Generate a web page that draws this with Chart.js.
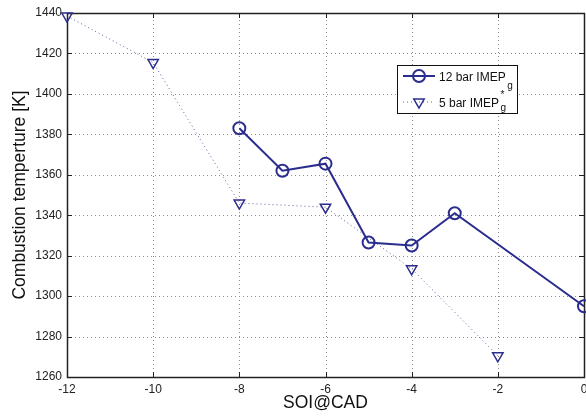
<!DOCTYPE html>
<html>
<head>
<meta charset="utf-8">
<script src="https://cdn.jsdelivr.net/npm/chart.js@4/dist/chart.umd.min.js"></script>
<style>
  html, body { margin: 0; padding: 0; background: #fff; }
  #wrap { width: 586px; height: 418px; }
</style>
</head>
<body>
<div id="wrap"><canvas id="c" width="586" height="418"></canvas></div>
<script>
// Start of injection (crank angle degrees) for each load
const soi12 = [-8, -7, -6, -5, -4, -3, 0];
const temp12 = [1383, 1362, 1365.5, 1326.5, 1325, 1341, 1295];
const soi5 = [-12, -10, -8, -6, -4, -2];
const temp5 = [1438.5, 1415.5, 1346, 1344, 1313.5, 1270.5];

const xTicks = [-12, -10, -8, -6, -4, -2, 0];
const yTicks = [1260, 1280, 1300, 1320, 1340, 1360, 1380, 1400, 1420, 1440];

const seriesNames = ['12 bar IMEP', '5 bar IMEP'];
const seriesSub = ['g', 'g'];
const seriesSup = ['', '*'];

const NAVY = '#2b2d8e';
const FONT = "'Liberation Sans', Arial, Helvetica, sans-serif";

// Dotted grid, box frame and inward tick marks on all four sides
const frame = {
  id: 'frame',
  beforeDatasetsDraw(chart) {
    const { ctx, chartArea: a, scales: { x, y } } = chart;
    const len = 5;
    ctx.save();
    // dotted grid
    ctx.strokeStyle = '#8c8c8c';
    ctx.lineWidth = 1;
    ctx.setLineDash([1, 3]);
    ctx.beginPath();
    xTicks.forEach(v => {
      const px = Math.round(x.getPixelForValue(v)) + 0.5;
      ctx.moveTo(px, a.bottom); ctx.lineTo(px, a.top);
    });
    yTicks.forEach(v => {
      const py = Math.round(y.getPixelForValue(v)) + 0.5;
      ctx.moveTo(a.left, py); ctx.lineTo(a.right, py);
    });
    ctx.stroke();
    ctx.setLineDash([]);
    // ticks
    ctx.strokeStyle = '#222';
    ctx.beginPath();
    xTicks.forEach(v => {
      const px = Math.round(x.getPixelForValue(v)) + 0.5;
      ctx.moveTo(px, a.bottom); ctx.lineTo(px, a.bottom - len);
      ctx.moveTo(px, a.top); ctx.lineTo(px, a.top + len);
    });
    yTicks.forEach(v => {
      const py = Math.round(y.getPixelForValue(v)) + 0.5;
      ctx.moveTo(a.left, py); ctx.lineTo(a.left + len, py);
      ctx.moveTo(a.right, py); ctx.lineTo(a.right - len, py);
    });
    ctx.stroke();
    ctx.lineWidth = 1.5;
    ctx.strokeRect(Math.round(a.left) + 0.5, Math.round(a.top) + 0.5,
      Math.round(a.right - a.left), Math.round(a.bottom - a.top));
    ctx.restore();
  }
};

// Boxed legend with subscript / superscript labels
const boxLegend = {
  id: 'boxLegend',
  afterDraw(chart, args, o) {
    const { ctx } = chart;
    ctx.save();
    ctx.fillStyle = '#fff';
    ctx.fillRect(o.x, o.y, o.w, o.h);
    ctx.strokeStyle = '#111';
    ctx.lineWidth = 1;
    ctx.strokeRect(o.x + 0.5, o.y + 0.5, o.w, o.h);
    chart.data.datasets.forEach((ds, i) => {
      const cy = o.y + o.rows[i];
      const x0 = o.x + 6, x1 = o.x + 38, xm = (x0 + x1) / 2;
      ctx.strokeStyle = ds.borderColor;
      ctx.lineWidth = ds.borderWidth;
      ctx.setLineDash(ds.borderDash || []);
      ctx.beginPath();
      ctx.moveTo(x0, cy); ctx.lineTo(x1, cy);
      ctx.stroke();
      ctx.setLineDash([]);
      ctx.fillStyle = 'rgba(0,0,0,0)';
      ctx.strokeStyle = ds.pointBorderColor;
      ctx.lineWidth = ds.pointBorderWidth;
      Chart.helpers.drawPoint(ctx, {
        pointStyle: ds.pointStyle, rotation: ds.pointRotation || 0,
        radius: ds.pointRadius, borderWidth: ds.pointBorderWidth
      }, xm, cy);
      ctx.fillStyle = '#111';
      ctx.font = '12px ' + FONT;
      ctx.textBaseline = 'alphabetic';
      ctx.textAlign = 'left';
      const tx = o.x + 42;
      ctx.fillText(seriesNames[i], tx, cy + 4.5);
      const w = ctx.measureText(seriesNames[i]).width;
      ctx.font = '10px ' + FONT;
      ctx.fillText(seriesSub[i], tx + w + 1.5, cy + o.subDy[i]);
      if (seriesSup[i]) ctx.fillText(seriesSup[i], tx + w + 1.5, cy - 4);
    });
    ctx.restore();
  }
};

new Chart(document.getElementById('c'), {
  type: 'line',
  data: {
    datasets: [
      {
        label: seriesNames[0],
        data: soi12.map((v, i) => ({ x: v, y: temp12[i] })),
        borderColor: NAVY,
        borderWidth: 2,
        pointStyle: 'circle',
        pointRadius: 6,
        pointBorderWidth: 2,
        pointBorderColor: NAVY,
        pointBackgroundColor: 'rgba(0,0,0,0)',
        tension: 0,
        clip: false
      },
      {
        label: seriesNames[1],
        data: soi5.map((v, i) => ({ x: v, y: temp5[i] })),
        borderColor: 'rgba(43,45,142,0.75)',
        borderWidth: 1,
        borderDash: [1, 3],
        pointStyle: 'triangle',
        pointRotation: 180,
        pointRadius: 6,
        pointBorderWidth: 1.5,
        pointBorderColor: NAVY,
        pointBackgroundColor: 'rgba(0,0,0,0)',
        tension: 0,
        clip: false
      }
    ]
  },
  options: {
    responsive: false,
    animation: false,
    devicePixelRatio: 1,
    layout: { autoPadding: false, padding: { top: 13, right: 2, left: 0, bottom: 0 } },
    plugins: {
      legend: { display: false },
      tooltip: { enabled: false },
      boxLegend: { x: 397, y: 65, w: 120, h: 48, rows: [11, 37], subDy: [13, 9] }
    },
    scales: {
      x: {
        type: 'linear',
        min: -12, max: 0,
        afterBuildTicks: s => { s.ticks = xTicks.map(v => ({ value: v })); },
        afterFit: s => { s.height = 41; s.paddingLeft = 0; s.paddingRight = 0; },
        grid: { display: false, drawTicks: false },
        border: { display: false },
        ticks: { padding: 5, color: '#222', font: { family: FONT, size: 12 }, maxRotation: 0, autoSkip: false,
                 callback: v => String(v) },
        title: { display: true, text: 'SOI@CAD', color: '#111', font: { family: FONT, size: 17.5 }, padding: { top: 0, bottom: 4.5 } }
      },
      y: {
        type: 'linear',
        min: 1260, max: 1440,
        afterBuildTicks: s => { s.ticks = yTicks.map(v => ({ value: v })); },
        afterFit: s => { s.width = 67; s.paddingTop = 0; s.paddingBottom = 0; },
        grid: { display: false, drawTicks: false },
        border: { display: false },
        ticks: { padding: 5, color: '#222', font: { family: FONT, size: 12 }, autoSkip: false,
                 callback: v => String(v) },
        title: { display: true, text: 'Combustion temperture [K]', color: '#111', font: { family: FONT, size: 17.5 }, padding: { top: 10, bottom: 0 } }
      }
    }
  },
  plugins: [frame, boxLegend]
});
</script>
</body>
</html>
